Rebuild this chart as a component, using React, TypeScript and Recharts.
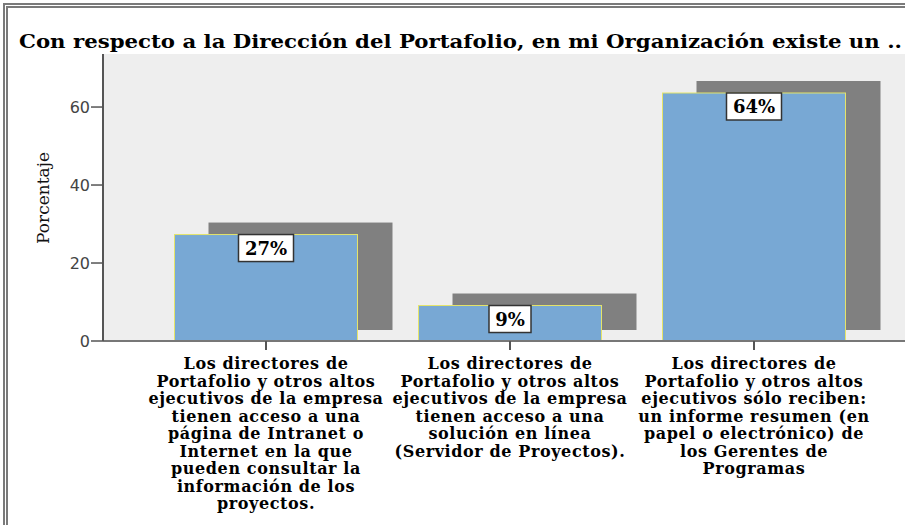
import React from 'react';
import { BarChart, Bar, XAxis, YAxis, CartesianGrid, LabelList } from 'recharts';

const categories = ['Intranet', 'Servidor', 'Informe'];
const categoryLines: string[][] = [
  ['Los directores de', 'Portafolio y otros altos', 'ejecutivos de la empresa', 'tienen acceso a una', 'página de Intranet o', 'Internet en la que', 'pueden consultar la', 'información de los', 'proyectos.'],
  ['Los directores de', 'Portafolio y otros altos', 'ejecutivos de la empresa', 'tienen acceso a una', 'solución en línea', '(Servidor de Proyectos).'],
  ['Los directores de', 'Portafolio y otros altos', 'ejecutivos sólo reciben:', 'un informe resumen (en', 'papel o electrónico) de', 'los Gerentes de', 'Programas'],
];
const percentages = [27.3, 9.1, 63.6];
const percentLabels = ['27%', '9%', '64%'];
const yTicks = [0, 20, 40, 60];

const data = categories.map((c, i) => ({ category: c, value: percentages[i], label: percentLabels[i] }));

const serif = '"DejaVu Serif", serif';

// bar with the SPSS style drop shadow behind it
const ShadowBar = (props: any) => {
  const { x, y, width, height } = props;
  return (
    <g>
      <rect x={x + 34} y={y - 12} width={width + 1} height={height + 1} fill="#808080" />
      <rect x={x} y={y} width={width} height={height} fill="#78a8d4" stroke="#e4e46a" strokeWidth={1} />
    </g>
  );
};

const BoxLabel = (props: any) => {
  const { x, y, width, value } = props;
  const text = String(value);
  const w = text.length > 2 ? 55 : 42;
  const cx = x + width / 2;
  return (
    <g>
      <rect x={cx - w / 2} y={y} width={w} height={27} fill="#fff" stroke="#333" strokeWidth={1.5} />
      <text x={cx} y={y + 20} textAnchor="middle" fontFamily={serif} fontWeight="bold" fontSize={18} fill="#000">
        {text}
      </text>
    </g>
  );
};

const CategoryTick = (props: any) => {
  const { x, payload } = props;
  const idx = categories.indexOf(payload.value);
  const lines = categoryLines[idx] || [];
  return (
    <text x={x} y={369} textAnchor="middle" fontFamily={serif} fontWeight="bold" fontSize={16} letterSpacing={0.6} fill="#000">
      {lines.map((l, i) => (
        <tspan key={i} x={x} y={369 + i * 17.5}>{l}</tspan>
      ))}
    </text>
  );
};

const App: React.FC = () => {
  return (
    <div style={{ position: 'fixed', left: 0, top: 0, width: 905, height: 525, overflow: 'hidden', background: '#fff' }}>
      <div style={{ position: 'absolute', left: 3, top: 3, width: 960, height: 600, border: '5px double #7a7a7a' }} />
      <div style={{ position: 'absolute', left: 0, top: 0 }}>
        <BarChart width={930} height={525} data={data} margin={{ top: 54, right: 13, bottom: 164, left: 0 }} barCategoryGap="12.5%">
          <CartesianGrid fill="#eeeeee" stroke="#eeeeee" strokeOpacity={0} />
          <XAxis
            dataKey="category"
            height={20}
            padding={{ left: 41, right: 41 }}
            tickSize={9}
            axisLine={{ stroke: '#777', strokeWidth: 2 }}
            tickLine={{ stroke: '#555', strokeWidth: 2 }}
            tick={<CategoryTick />}
            interval={0}
          />
          <YAxis
            width={103}
            domain={[0, 73.6]}
            ticks={yTicks}
            tickSize={12}
            tickMargin={1}
            axisLine={{ stroke: '#555', strokeWidth: 2 }}
            tickLine={{ stroke: '#555', strokeWidth: 1.5 }}
            tick={{ fill: '#444', fontFamily: '"DejaVu Sans", sans-serif', fontSize: 16 }}
            allowDataOverflow
          />
          <Bar dataKey="value" shape={<ShadowBar />} isAnimationActive={false}>
            <LabelList dataKey="label" content={<BoxLabel />} />
          </Bar>
        </BarChart>
      </div>
      <svg width={905} height={525} style={{ position: 'absolute', left: 0, top: 0, pointerEvents: 'none' }}>
        <text x={19} y={48} fontFamily={serif} fontWeight="bold" fontSize={18.5} fill="#000" textLength={883} lengthAdjust="spacingAndGlyphs">
          Con respecto a la Dirección del Portafolio, en mi Organización existe un ..
        </text>
        <text x={43} y={198} transform="rotate(-90 43 198)" textAnchor="middle" dominantBaseline="central" fontFamily={serif} fontSize={17} fill="#111">
          Porcentaje
        </text>
      </svg>
    </div>
  );
};

export default App;
